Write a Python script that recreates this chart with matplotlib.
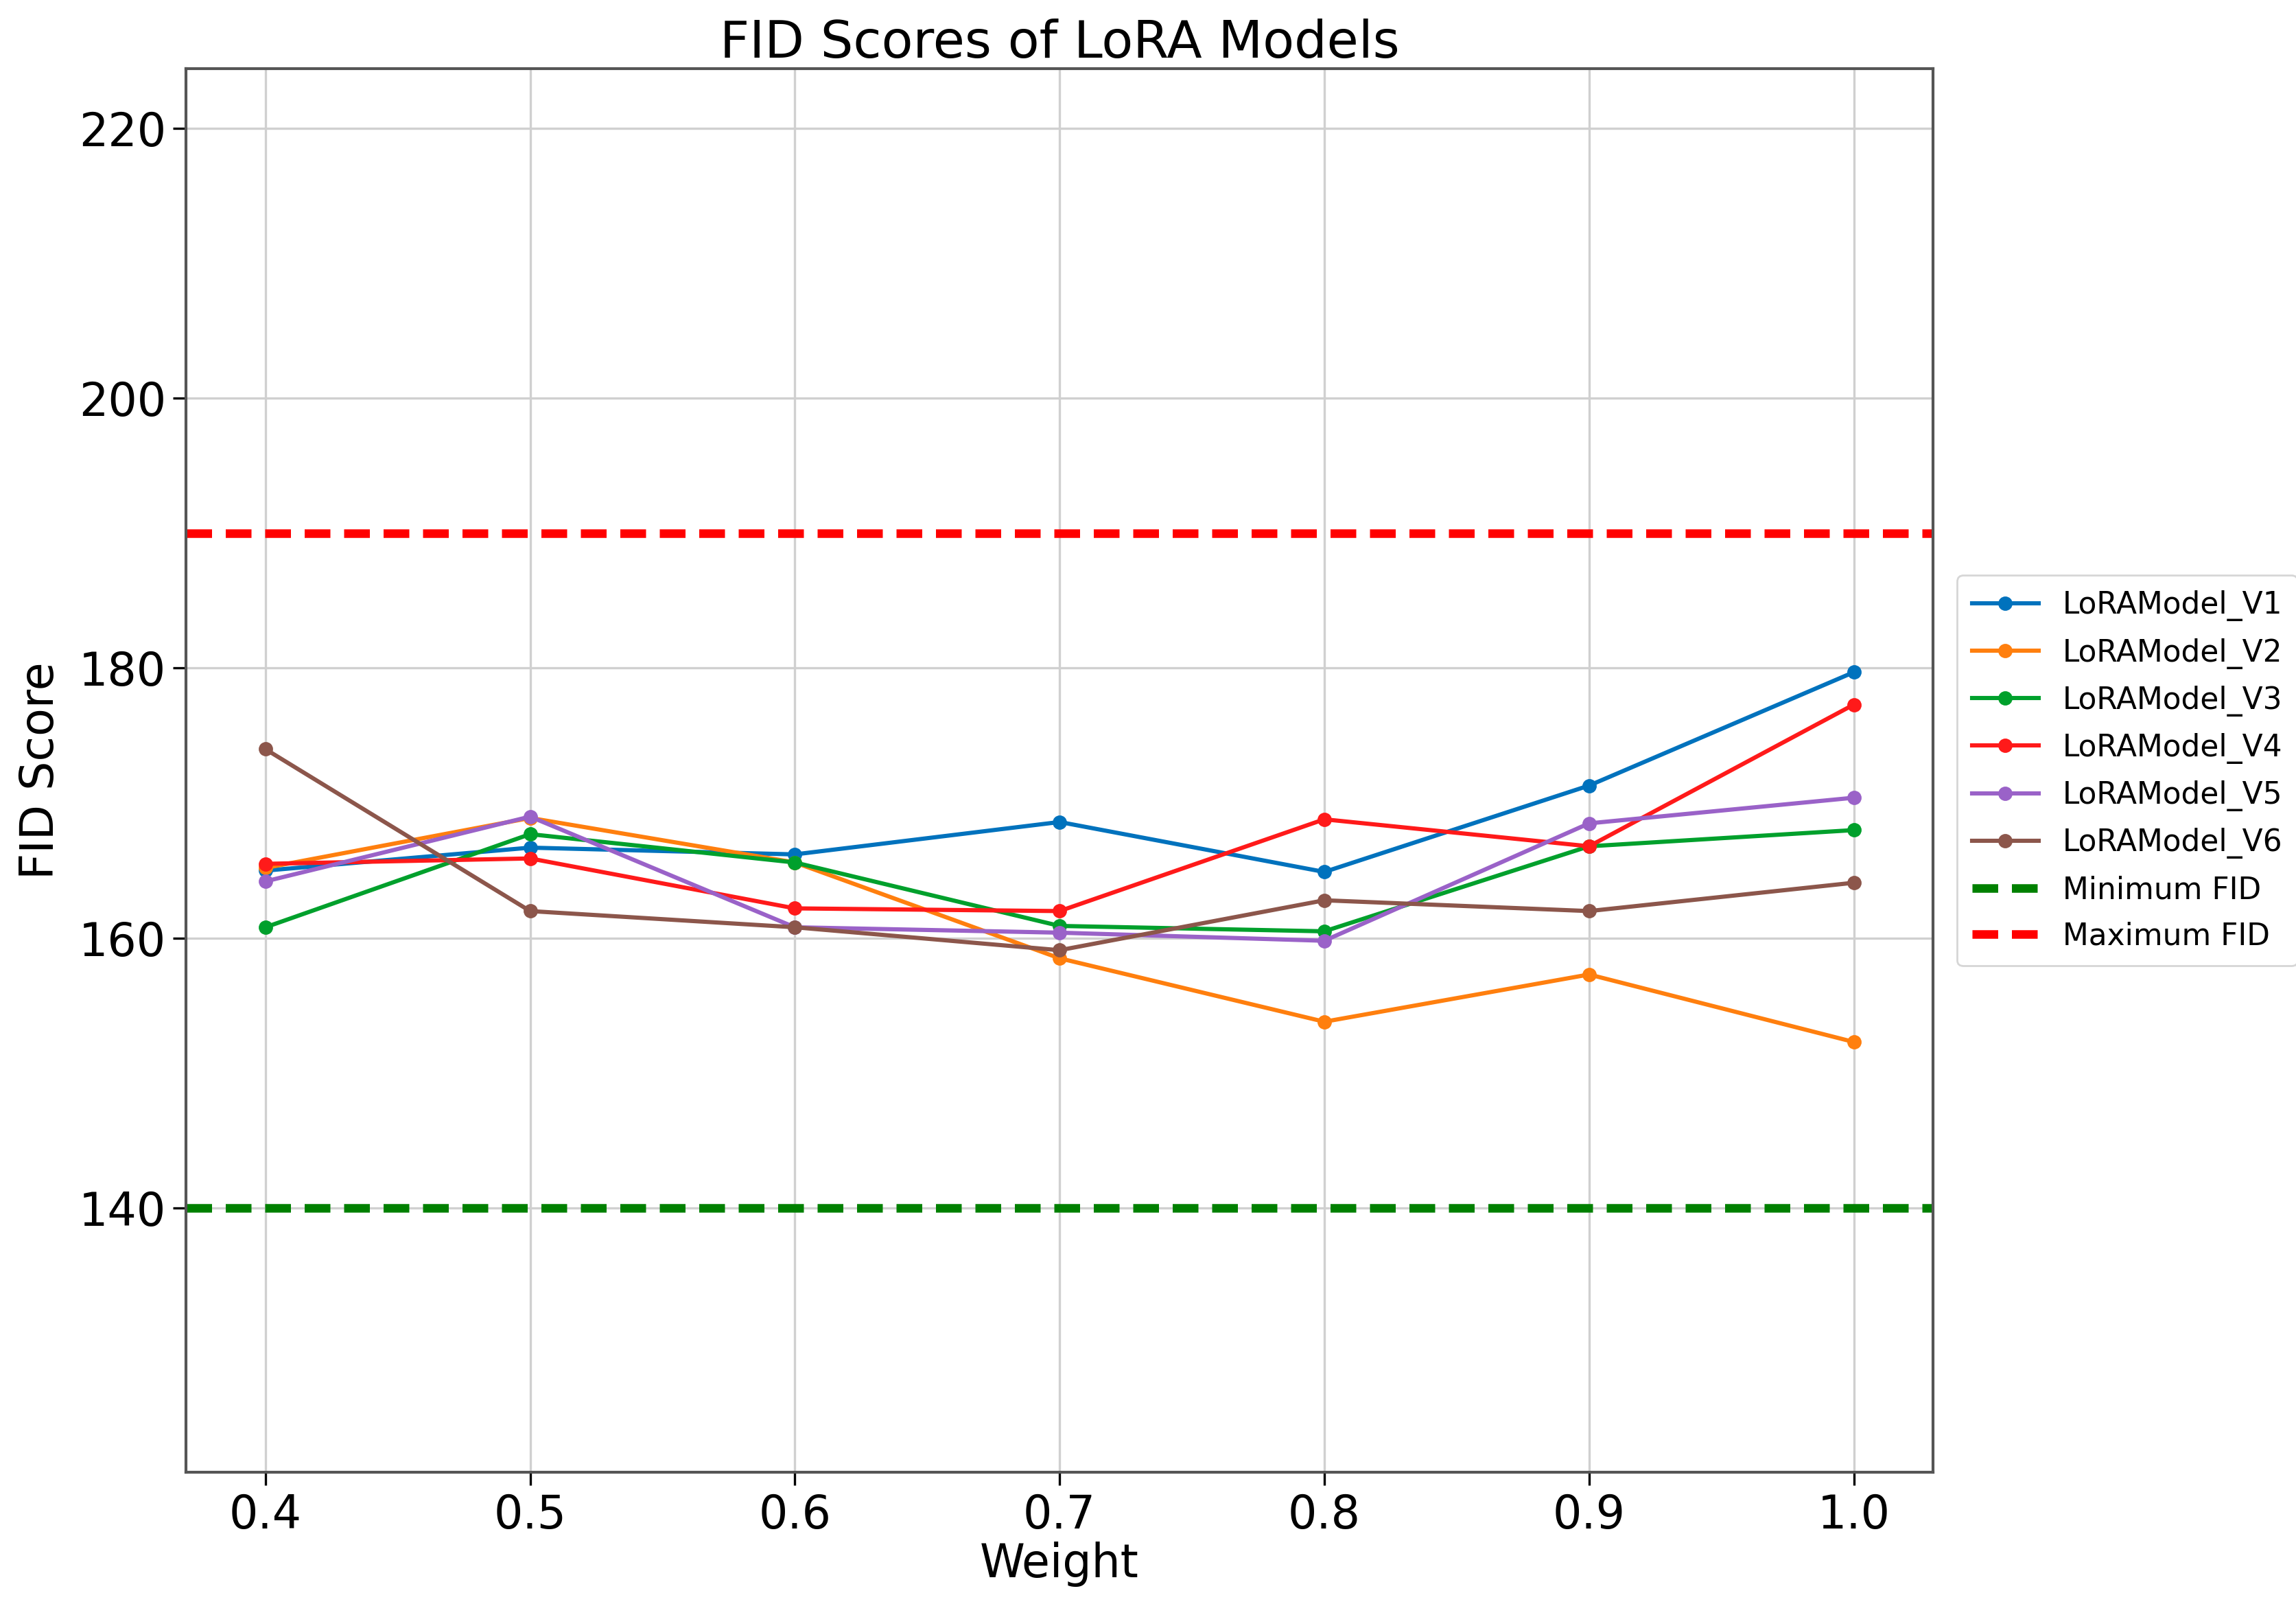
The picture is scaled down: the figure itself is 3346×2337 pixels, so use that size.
import matplotlib
matplotlib.use("Agg")
import matplotlib.pyplot as plt

weights = [0.4, 0.5, 0.6, 0.7, 0.8, 0.9, 1.0]
labels = ["LoRAModel_V1", "LoRAModel_V2", "LoRAModel_V3",
          "LoRAModel_V4", "LoRAModel_V5", "LoRAModel_V6"]
v1 = [165.0, 166.7, 166.2, 168.6, 164.9, 171.3, 179.7]
v2 = [165.2, 168.9, 165.6, 158.5, 153.8, 157.3, 152.3]
v3 = [160.8, 167.7, 165.6, 160.9, 160.5, 166.8, 168.0]
v4 = [165.5, 165.9, 162.2, 162.0, 168.8, 166.8, 177.3]
v5 = [164.2, 169.0, 160.8, 160.4, 159.8, 168.5, 170.4]
v6 = [174.0, 162.0, 160.8, 159.1, 162.8, 162.0, 164.1]
series = [v1, v2, v3, v4, v5, v6]
colors = ["#0072bd", "#ff7f0e", "#00a02c", "#ff1a1a", "#9a62c8", "#8c564b"]
min_fid = 140
max_fid = 190

fig = plt.figure(figsize=(16.73, 11.685), dpi=200)
ax = fig.add_axes([0.081, 0.082, 0.761, 0.875])

for vals, lab, c in zip(series, labels, colors):
    ax.plot(weights, vals, marker="o", markersize=6.5, linewidth=2.2, color=c, label=lab)

ax.axhline(min_fid, color="green", linestyle=(0, (3, 1.6)), linewidth=4.5, label="Minimum FID")
ax.axhline(max_fid, color="red", linestyle=(0, (3, 1.6)), linewidth=4.5, label="Maximum FID")

ax.set_ylim(120.4, 224.4)
ax.set_yticks([140, 160, 180, 200, 220])
ax.set_xticks(weights)
ax.set_xticklabels([f"{w:.1f}" for w in weights])
ax.grid(True, color="#d0d0d0", linewidth=1.2)
ax.set_axisbelow(True)
for s in ax.spines.values():
    s.set_color("#555555")
    s.set_linewidth(1.5)

ax.tick_params(axis="both", labelsize=24, length=7, width=1.2)
ax.set_title("FID Scores of LoRA Models", fontsize=27, pad=6)
ax.set_xlabel("Weight", fontsize=24, labelpad=2)
ax.set_ylabel("FID Score", fontsize=24, labelpad=8)

ax.legend(loc="center left", bbox_to_anchor=(1.005, 0.5), fontsize=15.8,
          frameon=True, handlelength=2.2, labelspacing=0.55, borderpad=0.5)

fig.savefig("out.png", dpi=200)
